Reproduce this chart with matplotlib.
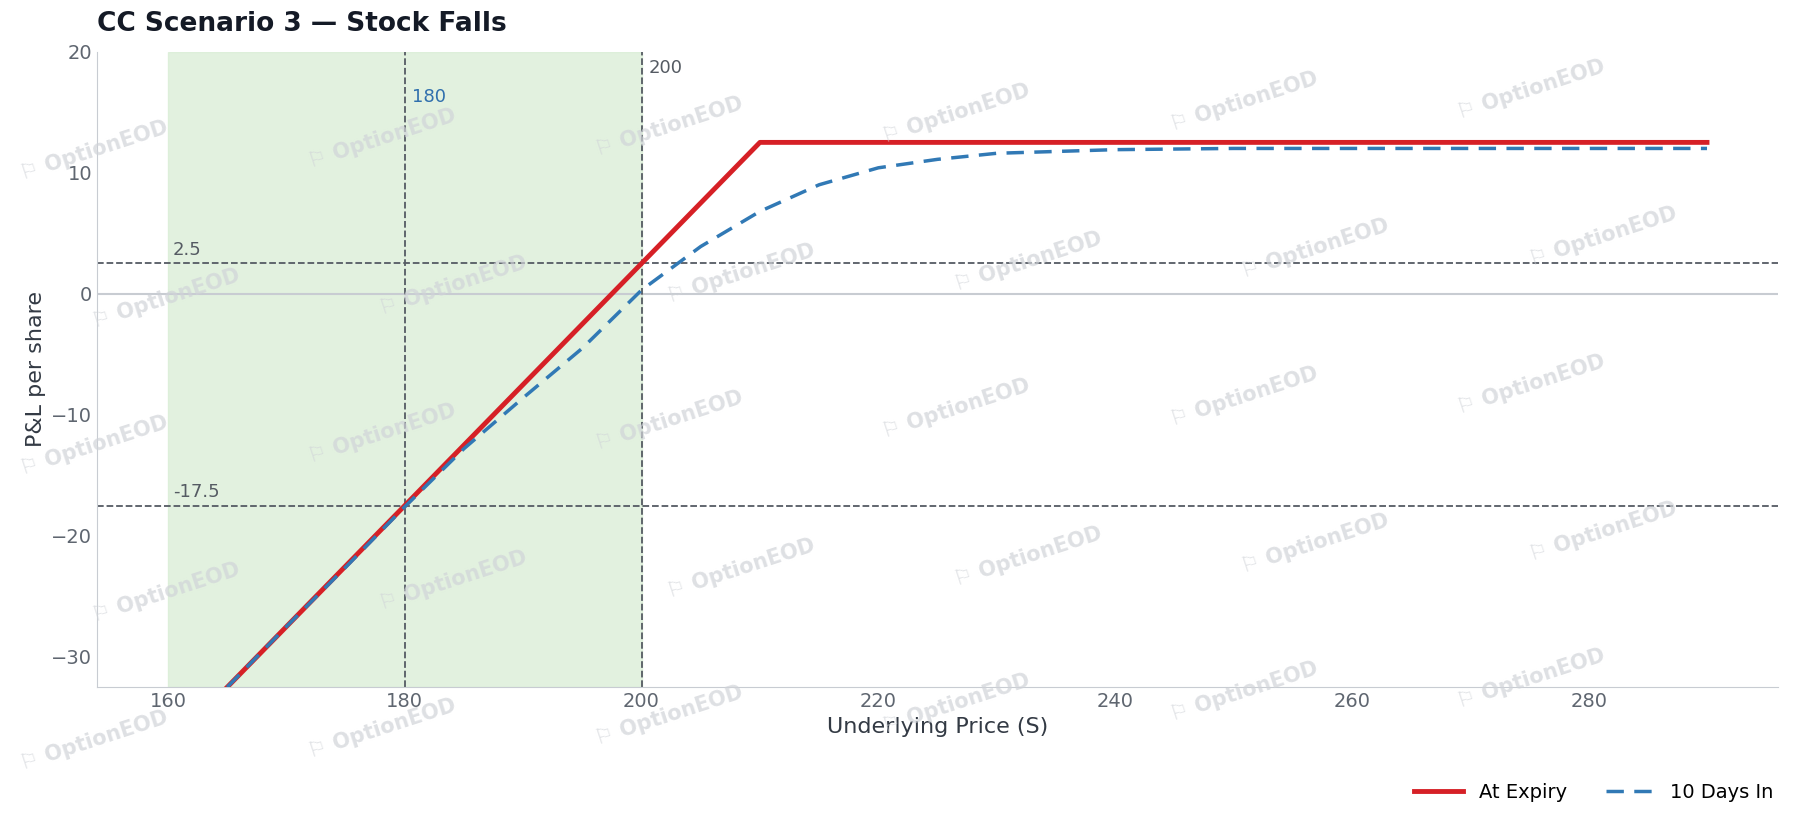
import matplotlib
matplotlib.use("Agg")
import matplotlib.pyplot as plt

# At expiry P&L (covered call: basis 197.5, strike 210)
expiry_s = [165, 210, 290]
expiry_pnl = [-32.5, 12.5, 12.5]

# 10 days in
days_s = [165, 170, 175, 180, 185, 190, 195, 200, 205, 210, 215, 220, 225, 230, 240, 250, 260, 290]
days_pnl = [-32.5, -27.5, -22.6, -17.6, -12.8, -8.6, -4.5, 0.3, 3.9, 6.8, 9.0, 10.4, 11.1, 11.6, 11.9, 12.0, 12.0, 12.0]

h_levels = [2.5, -17.5]
shade = (160, 200)

fig = plt.figure(figsize=(17.96, 8.19), dpi=100)
ax = fig.add_axes([0.054, 0.161, 0.936, 0.776])

# watermarks
for i in range(6):
    for j in range(5):
        x = 0.01 + i * 0.16 + (j % 2) * 0.04
        y = 0.06 + j * 0.18 + i * 0.015
        fig.text(x, y, "\u2690 OptionEOD", rotation=18, fontsize=15, color="#d0d3d8",
                 alpha=0.7, fontweight="bold", zorder=0)

ax.axvspan(*shade, color="#d6ecd2", alpha=0.7, zorder=0)
ax.axhline(0, color="#c8ccd2", lw=1.5, zorder=1)
for h in h_levels:
    ax.axhline(h, color="#555b63", ls="--", lw=1.3, zorder=2)
    ax.text(160.4, h + 0.7, f"{h:g}", color="#555b63", fontsize=13)
ax.axvline(180, color="#555b63", ls="--", lw=1.3, zorder=2)
ax.axvline(200, color="#555b63", ls="--", lw=1.3, zorder=2)
ax.text(180.6, 15.8, "180", color="#2f6fad", fontsize=13)
ax.text(200.6, 18.2, "200", color="#555b63", fontsize=13)

ax.plot(expiry_s, expiry_pnl, color="#d62026", lw=3.5, label="At Expiry", zorder=4)
ax.plot(days_s, days_pnl, color="#3179b5", lw=2.5, ls=(0, (5, 3)), label="10 Days In", zorder=5)

ax.set_xlim(154, 296)
ax.set_ylim(-32.5, 20)
ax.set_xticks([160, 180, 200, 220, 240, 260, 280])
ax.set_yticks([-30, -20, -10, 0, 10, 20])
ax.set_yticklabels(["\u221230", "\u221220", "\u221210", "0", "10", "20"])
ax.tick_params(labelsize=14, colors="#5f6670", length=0)
for s in ["top", "right"]:
    ax.spines[s].set_visible(False)
for s in ["left", "bottom"]:
    ax.spines[s].set_color("#c8ccd2")
ax.set_xlabel("Underlying Price (S)", fontsize=16, color="#333a44")
ax.set_ylabel("P&L per share", fontsize=16, color="#333a44")
fig.text(0.054, 0.962, "CC Scenario 3 \u2014 Stock Falls", fontsize=19, fontweight="bold",
         color="#141a26")
fig.legend(loc="lower right", bbox_to_anchor=(0.997, 0.0), ncol=2, frameon=False,
           fontsize=14, handlelength=2.5, columnspacing=2)

fig.savefig("out.png", dpi=100)
